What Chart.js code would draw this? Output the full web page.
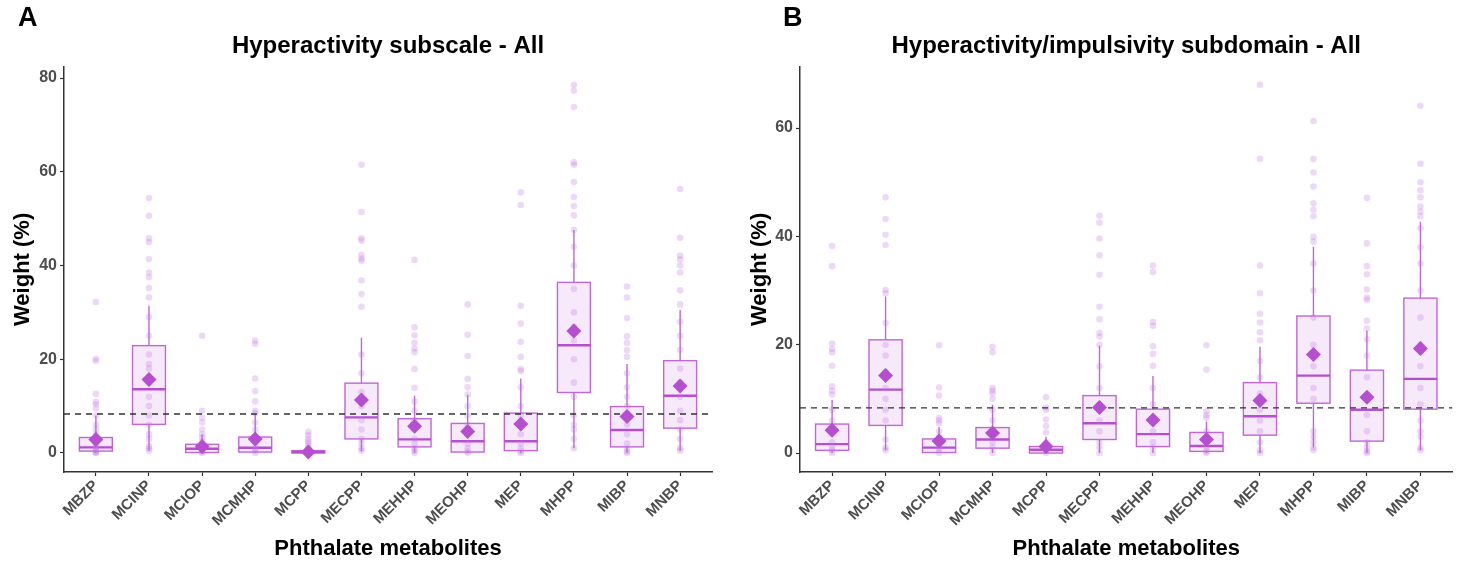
<!DOCTYPE html>
<html>
<head>
<meta charset="utf-8">
<script src="https://cdn.jsdelivr.net/npm/chart.js@4.4.1/dist/chart.umd.min.js"></script>
<style>
  body { margin: 0; background: #fff; }
  .panel { position: absolute; top: 0; width: 730px; height: 562px; }
  #panel-a { left: 0; }
  #panel-b { left: 730px; }
</style>
</head>
<body>
<div class="panel" id="panel-a"><canvas id="chart-a" width="730" height="562"></canvas></div>
<div class="panel" id="panel-b"><canvas id="chart-b" width="730" height="562"></canvas></div>
<script>
const metabolites = ['MBZP', 'MCINP', 'MCIOP', 'MCMHP', 'MCPP', 'MECPP', 'MEHHP', 'MEOHP', 'MEP', 'MHPP', 'MIBP', 'MNBP'];
const refLine = 8.33;

// panel A - Hyperactivity subscale
const aQ1 =   [0.4, 6.1, 0.1, 0.2, 0.0, 3.0, 1.3, 0.2, 0.5, 12.9, 1.3, 5.3];
const aMed =  [1.2, 13.6, 0.9, 1.1, 0.2, 7.6, 2.9, 2.5, 2.5, 23.0, 4.9, 12.2];
const aQ3 =   [3.3, 22.9, 1.85, 3.4, 0.5, 14.9, 7.3, 6.3, 8.5, 36.4, 9.9, 19.7];
const aLow =  [0, 0.5, 0, 0, 0, 0.3, 0, 0, 0, 1.0, 0, 0.5];
const aHigh = [8.0, 31.4, 4.0, 8.3, 1.2, 24.6, 12.2, 12.4, 15.9, 47.6, 19.0, 30.5];
const aMean = [2.9, 15.7, 1.4, 3.0, 0.2, 11.3, 5.7, 4.6, 6.2, 26.0, 7.8, 14.3];
const aPoints = [
  [32.2, 20.1, 19.6, 12.6, 10.9, 10.4, 9.5, 8, 6, 5, 4, 3, 2, 1.5, 1, 0.6, 0.3, 0.1, 0],
  [54.4, 50.6, 45.8, 45, 41.4, 38.5, 37.5, 35.2, 33.2, 29, 25, 21, 19, 18, 15, 12, 10, 8, 6, 4, 3, 1.5, 1, 0.5],
  [25, 9, 7.5, 6.5, 5, 4, 3.3, 2.5, 1.5, 1, 0.5, 0.2, 0],
  [24, 23.3, 15.9, 13.2, 11, 9, 8.5, 6.5, 5, 3, 2, 1, 0.5, 0],
  [4.5, 3.8, 3, 2.5, 2, 1.5, 1, 0.5, 0.2, 0],
  [61.5, 51.4, 45.8, 45.3, 42.3, 41.5, 41, 36.8, 33.9, 31.2, 21, 17, 13, 10, 7, 5, 3, 2, 1, 0.5],
  [41.2, 26.8, 25.1, 23.5, 22.3, 21.5, 17.9, 13.9, 11, 9, 7, 5, 3, 2, 1, 0.5, 0],
  [31.7, 25.2, 20.7, 15.8, 14, 12.5, 10, 8, 6, 4, 2, 1, 0.3, 0],
  [55.6, 52.9, 31.4, 27.6, 23.7, 20.5, 17.9, 17.5, 14, 10, 8, 6, 4, 2, 1, 0.3, 0],
  [78.5, 77.3, 73.8, 62, 61.5, 57.8, 54.6, 52.7, 50.7, 47.6, 44, 40, 35, 30, 27, 24, 20, 15, 12, 8, 6, 5, 3, 1],
  [35.5, 33.2, 28.8, 24.9, 23.5, 21.9, 20.5, 17, 14, 12, 10, 8, 6, 4, 2, 1, 0.3, 0],
  [56.3, 45.9, 42.1, 41.3, 40, 38.5, 34.7, 31.7, 28, 25, 22, 18, 15, 12, 9, 7, 5, 3, 1, 0.5]
];
const aTicks = [0, 20, 40, 60, 80];

// panel B - Hyperactivity/impulsivity subdomain
const bQ1 =   [0.5, 5.1, 0.1, 0.9, 0.0, 2.5, 1.2, 0.3, 3.3, 9.2, 2.2, 8.1];
const bMed =  [1.65, 11.7, 1.0, 2.5, 0.6, 5.5, 3.5, 1.3, 6.8, 14.3, 8.0, 13.7];
const bQ3 =   [5.35, 20.9, 2.6, 4.7, 1.2, 10.6, 8.1, 3.8, 13.0, 25.3, 15.3, 28.6];
const bLow =  [0, 0.5, 0, 0, 0, 0, 0, 0, 0, 1.0, 0, 0.5];
const bHigh = [9.8, 28.9, 4.8, 8.9, 3.0, 19.8, 14.2, 5.8, 19.6, 38.1, 22.6, 42.7];
const bMean = [4.2, 14.3, 2.2, 3.7, 1.2, 8.4, 6.1, 2.5, 9.7, 18.2, 10.3, 19.3];
const bPoints = [
  [38.2, 34.5, 20.2, 19.2, 18.6, 16.1, 12.3, 11.5, 10.8, 8, 6, 4, 2, 1, 0.5, 0],
  [47.2, 43.2, 40.3, 38.4, 30.1, 29.5, 24, 20, 18, 15, 12, 10, 8, 6, 2.5, 1, 0.5],
  [19.9, 12.1, 10.6, 6.5, 6, 5.5, 4, 3, 2, 1, 0.5, 0],
  [19.6, 18.6, 12, 11.5, 11, 10, 8, 6, 4, 2, 1, 0],
  [10.3, 8.4, 8, 6.2, 5, 3.8, 2, 1, 0.5, 0],
  [43.8, 42.5, 39.6, 36.5, 32.9, 27, 24.7, 22.2, 21.5, 20, 16, 12, 9, 6, 4, 2, 1, 0],
  [34.6, 33.4, 24.2, 23.5, 19.7, 18.3, 16.1, 12, 9, 6, 4, 2, 1, 0],
  [19.9, 15.4, 7.7, 7, 6.5, 4, 2, 1, 0.3, 0],
  [68, 54.3, 34.6, 29.5, 25.7, 24.1, 22.3, 20.8, 17, 14, 11, 8, 6, 4, 2, 0.5, 0],
  [61.3, 54.3, 51.8, 49.2, 46.1, 44.9, 43.7, 39.9, 39, 35, 30, 25, 20, 16, 12, 10, 4, 3, 2, 1, 0.5],
  [47.1, 38.7, 34.5, 33, 30.2, 28.7, 28.3, 24.4, 23, 21, 18, 14, 10, 7, 4, 2, 1, 0.3, 0],
  [64.1, 53.4, 50, 48.5, 47.2, 45.5, 44.6, 43.7, 41.5, 38, 35, 30, 25, 20, 16, 12, 9, 6, 4, 3, 1, 0.5]
];
const bTicks = [0, 20, 40, 60];

const PURPLE = '#b54fcf';
const BOX_LINE = '#c066d8';
const BOX_FILL = 'rgba(200, 120, 225, 0.16)';
const DOT = 'rgba(195, 115, 225, 0.28)';
const AXIS = '#333333';
const TICK_TEXT = '#4d4d4d';

Chart.defaults.font.family = '"Liberation Sans", Arial, sans-serif';

// box + whiskers + median, drawn under the points
const boxPlugin = {
  id: 'boxes',
  beforeDatasetsDraw(chart) {
    const st = chart.options.plugins.boxes;
    const { ctx, scales: { x, y } } = chart;
    const half = (x.getPixelForValue(0.31) - x.getPixelForValue(0));
    ctx.save();
    for (let i = 0; i < st.q1.length; i++) {
      const cx = x.getPixelForValue(i);
      const top = y.getPixelForValue(st.q3[i]);
      const bot = y.getPixelForValue(st.q1[i]);
      ctx.strokeStyle = BOX_LINE;
      ctx.lineWidth = 1.4;
      ctx.beginPath();
      ctx.moveTo(cx, y.getPixelForValue(st.hi[i]));
      ctx.lineTo(cx, top);
      ctx.moveTo(cx, bot);
      ctx.lineTo(cx, y.getPixelForValue(st.lo[i]));
      ctx.stroke();
      ctx.fillStyle = BOX_FILL;
      ctx.fillRect(cx - half, top, half * 2, bot - top);
      ctx.strokeRect(cx - half, top, half * 2, bot - top);
      ctx.lineWidth = 2.4;
      ctx.strokeStyle = PURPLE;
      const my = y.getPixelForValue(st.med[i]);
      ctx.beginPath();
      ctx.moveTo(cx - half, my);
      ctx.lineTo(cx + half, my);
      ctx.stroke();
    }
    ctx.restore();
  }
};

// panel letter in the top left corner
const letterPlugin = {
  id: 'letter',
  afterDraw(chart) {
    const o = chart.options.plugins.letter;
    const { ctx } = chart;
    ctx.save();
    ctx.font = 'bold 27px "Liberation Sans", Arial, sans-serif';
    ctx.fillStyle = '#000';
    ctx.textBaseline = 'middle';
    ctx.fillText(o.text, o.x, o.y);
    ctx.restore();
  }
};

function makePanel(canvas, cfg) {
  const dots = [];
  cfg.points.forEach((vals, i) => vals.forEach(v => dots.push({ x: i, y: v })));
  const means = cfg.mean.map((v, i) => ({ x: i, y: v }));

  return new Chart(canvas, {
    type: 'scatter',
    data: {
      datasets: [
        { data: means, pointStyle: 'rectRot', pointRadius: 7.5, backgroundColor: PURPLE, borderWidth: 0 },
        { data: [{ x: -0.6, y: refLine }, { x: 11.6, y: refLine }], showLine: true, pointRadius: 0,
          borderColor: AXIS, borderWidth: 1.4, borderDash: [6, 5] },
        { data: dots, pointRadius: 3.3, backgroundColor: DOT, borderWidth: 0 }
      ]
    },
    options: {
      responsive: false,
      animation: false,
      events: [],
      layout: { padding: { top: 10, left: 0, right: cfg.padRight, bottom: 0 } },
      plugins: {
        legend: { display: false },
        tooltip: { enabled: false },
        title: {
          display: true,
          text: cfg.title,
          fullSize: false,
          color: '#000',
          font: { size: 24, weight: 'bold' },
          padding: { top: 22, bottom: 6 }
        },
        boxes: { q1: cfg.q1, med: cfg.med, q3: cfg.q3, lo: cfg.lo, hi: cfg.hi },
        letter: { text: cfg.letter, x: cfg.letterX, y: 19 }
      },
      scales: {
        x: {
          type: 'linear',
          min: -0.6,
          max: 11.6,
          afterBuildTicks: s => { s.ticks = metabolites.map((m, i) => ({ value: i })); },
          afterFit: s => { s.height = 90; },
          grid: { drawOnChartArea: false, color: AXIS, tickLength: 4, tickWidth: 1.2 },
          border: { display: true, color: AXIS, width: 1.5 },
          ticks: {
            autoSkip: false,
            maxRotation: 45,
            minRotation: 45,
            padding: 1,
            color: TICK_TEXT,
            font: { size: 15, weight: 'bold' },
            callback: v => metabolites[v]
          },
          title: {
            display: true,
            text: 'Phthalate metabolites',
            color: '#000',
            font: { size: 22, weight: 'bold' },
            padding: { top: 0, bottom: 0 }
          }
        },
        y: {
          min: cfg.yMin,
          max: cfg.yMax,
          afterBuildTicks: s => { s.ticks = cfg.ticks.map(v => ({ value: v })); },
          afterFit: s => { s.width = cfg.yWidth; },
          grid: { drawOnChartArea: false, color: AXIS, tickLength: 4, tickWidth: 1.2 },
          border: { display: true, color: AXIS, width: 1.5 },
          ticks: { padding: 3, color: TICK_TEXT, font: { size: 16, weight: 'bold' } },
          title: {
            display: true,
            text: 'Weight (%)',
            color: '#000',
            font: { size: 22, weight: 'bold' },
            padding: { top: cfg.yTitlePad, bottom: 0 }
          }
        }
      }
    },
    plugins: [boxPlugin, letterPlugin]
  });
}

makePanel(document.getElementById('chart-a'), {
  title: 'Hyperactivity subscale - All', letter: 'A', letterX: 18,
  q1: aQ1, med: aMed, q3: aQ3, lo: aLow, hi: aHigh, mean: aMean, points: aPoints,
  ticks: aTicks, yMin: -4.06, yMax: 82.4, yWidth: 64, yTitlePad: 10, padRight: 18
});

makePanel(document.getElementById('chart-b'), {
  title: 'Hyperactivity/impulsivity subdomain - All', letter: 'B', letterX: 53,
  q1: bQ1, med: bMed, q3: bQ3, lo: bLow, hi: bHigh, mean: bMean, points: bPoints,
  ticks: bTicks, yMin: -3.5, yMax: 71.3, yWidth: 70, yTitlePad: 17, padRight: 5
});
</script>
</body>
</html>
